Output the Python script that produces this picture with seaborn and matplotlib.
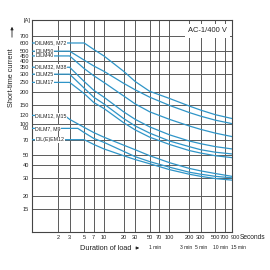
import numpy as np
import pandas as pd
import matplotlib
matplotlib.use('Agg')
from matplotlib import pyplot as plt
from matplotlib.transforms import ScaledTranslation
import seaborn as sns

# curve data: duration [s] vs short-time current [A]
names = ['DILM65, M72', 'DILM50', 'DILM40', 'DILM32, M38', 'DILM25', 'DILM17',
         'DILM12, M15', 'DILM7, M9', 'DIL(E)EM12']

t_m65 = [0.8, 5, 7, 10, 20, 30, 50, 100, 200, 300, 500, 900]
i_m65 = [600, 600, 520, 450, 320, 255, 205, 175, 148, 135, 122, 112]

t_m50 = [0.8, 3, 5, 7, 10, 20, 30, 50, 100, 200, 300, 500, 900]
i_m50 = [500, 500, 410, 360, 320, 245, 212, 180, 150, 128, 118, 108, 100]

t_m40 = [0.8, 3, 5, 7, 10, 20, 30, 50, 100, 200, 300, 500, 900]
i_m40 = [450, 450, 340, 290, 250, 185, 155, 130, 110, 95, 88, 81, 75]

t_m32 = [0.8, 3, 5, 7, 10, 20, 30, 50, 100, 200, 300, 500, 900]
i_m32 = [350, 350, 255, 210, 180, 130, 110, 93, 78, 68, 64, 60, 57]

t_m25 = [0.8, 3, 5, 7, 10, 20, 30, 50, 100, 200, 300, 500, 900]
i_m25 = [300, 300, 220, 180, 155, 112, 95, 81, 68, 60, 56, 53, 51]

t_m17 = [0.8, 3, 5, 7, 10, 20, 30, 50, 100, 200, 300, 500, 900]
i_m17 = [250, 250, 195, 160, 140, 102, 87, 74, 63, 55, 52, 49, 47]

t_m12 = [0.8, 2.5, 3, 5, 7, 10, 20, 30, 50, 100, 200, 300, 500, 900]
i_m12 = [120, 120, 110, 92, 82, 74, 62, 56, 49, 42, 37, 35, 33, 31]

t_m7 = [0.8, 4, 5, 7, 10, 20, 30, 50, 100, 200, 300, 500, 900]
i_m7 = [90, 90, 82, 72, 66, 54, 48, 43, 38, 34, 32.5, 31, 30]

t_eem = [0.8, 5, 7, 10, 20, 30, 50, 100, 200, 300, 500, 900]
i_eem = [70, 70, 63, 57, 49, 45, 41, 36, 32.5, 31, 29.5, 28.5]

y_ticks = [700, 600, 500, 450, 400, 350, 300, 250, 200, 150, 120, 100, 90, 70, 50, 40, 30, 20, 15]
y_grid = [700, 500, 400, 300, 200, 150, 100, 70, 50, 40, 30, 20, 15]
x_ticks = [2, 3, 5, 7, 10, 20, 30, 50, 70, 100, 200, 300, 500, 700, 900]
min_pos = [60, 180, 300, 600, 900]
min_labels = ['1 min', '3 min', '5 min', '10 min', '15 min']

ts = [t_m65, t_m50, t_m40, t_m32, t_m25, t_m17, t_m12, t_m7, t_eem]
cs = [i_m65, i_m50, i_m40, i_m32, i_m25, i_m17, i_m12, i_m7, i_eem]
df = pd.concat([pd.DataFrame({'t': t, 'I': c, 'device': n}) for t, c, n in zip(ts, cs, names)])

sns.set_style('white')
plt.rcParams['font.family'] = ['Liberation Sans', 'DejaVu Sans']
fs = 4.1

blue = '#2f95c8'
grid_c = '#5a5a5a'
txt_c = '#222222'

fig = plt.figure(figsize=(2.7, 2.7), dpi=100)
ax = fig.add_axes([32/270, 1 - 232/270, 200/270, 212/270])
ax.set_xscale('log')
ax.set_yscale('log')
ax.set_xlim(0.8, 900)
ax.set_ylim(9, 1000)

for v in y_grid:
    ax.axhline(v, color=grid_c, lw=0.7, zorder=1)
for v in x_ticks[:-1]:
    ax.axvline(v, color=grid_c, lw=0.7, zorder=1)

sns.lineplot(data=df, x='t', y='I', hue='device', palette=[blue] * len(names),
             estimator=None, sort=False, legend=False, lw=0.9, ax=ax, zorder=3)

# labels sitting on the plateau lines
for n, c in zip(names, cs):
    ax.text(0.9, c[0], n, fontsize=3.8, va='center', ha='left', color=txt_c, zorder=4,
            bbox=dict(facecolor='white', edgecolor='none', pad=0.3))

ax.text(0.975, 0.965, 'AC-1/400 V', transform=ax.transAxes, ha='right', va='top', fontsize=5.4,
        color=txt_c, zorder=5, bbox=dict(facecolor='white', edgecolor='none', pad=2.5))

ax.set_yticks(y_ticks)
ax.set_yticklabels([str(v) for v in y_ticks])
ax.yaxis.set_minor_locator(matplotlib.ticker.NullLocator())
ax.set_xticks(x_ticks)
ax.set_xticklabels([str(v) for v in x_ticks])
ax.set_xticks(min_pos, minor=True)
ax.set_xticklabels([''] * len(min_pos), minor=True)
ax.tick_params(axis='both', which='major', length=0, labelsize=fs, pad=2, colors=txt_c)
ax.tick_params(axis='x', which='minor', length=9, width=0.6, color=grid_c, direction='out')
ax.set_xlabel('')
ax.set_ylabel('')

# crowded labels at the right end: nudge apart a little
labs = ax.get_xticklabels()
labs[-1].set_transform(labs[-1].get_transform() + ScaledTranslation(3.5/100, 0, fig.dpi_scale_trans))
labs[-2].set_transform(labs[-2].get_transform() + ScaledTranslation(-0.8/100, 0, fig.dpi_scale_trans))

for s in ax.spines.values():
    s.set_color('#444444')
    s.set_linewidth(0.8)

xt = ax.get_xaxis_transform()
for p, l in zip(min_pos, min_labels):
    dx = 6.5 if l == '15 min' else 0
    ax.text(p, -0.075, l, transform=xt + ScaledTranslation(dx/100, 0, fig.dpi_scale_trans),
            ha='center', va='center', fontsize=3.6, color=txt_c)
ax.text(1.04, -0.028, 'Seconds', transform=ax.transAxes, ha='left', va='center', fontsize=4.8, color=txt_c)

fig.text(80/270, 1 - 248/270, 'Duration of load', ha='left', va='center', fontsize=5.3, color=txt_c)
ax.annotate('', xy=(142/270, 1 - 248/270), xytext=(134/270, 1 - 248/270), xycoords='figure fraction',
            arrowprops=dict(arrowstyle='-|>', color=txt_c, lw=0.6, mutation_scale=4))

fig.text(12/270, 1 - 78/270, 'Short-time current', rotation=90, ha='center', va='center', fontsize=5.3,
         color=txt_c)
ax.annotate('', xy=(12/270, 1 - 24/270), xytext=(12/270, 1 - 40/270), xycoords='figure fraction',
            arrowprops=dict(arrowstyle='-|>', color=txt_c, lw=0.6, mutation_scale=4))
fig.text(27/270, 1 - 21/270, '[A]', ha='center', va='center', fontsize=fs, color=txt_c)

fig.savefig('out.png', dpi=100)
